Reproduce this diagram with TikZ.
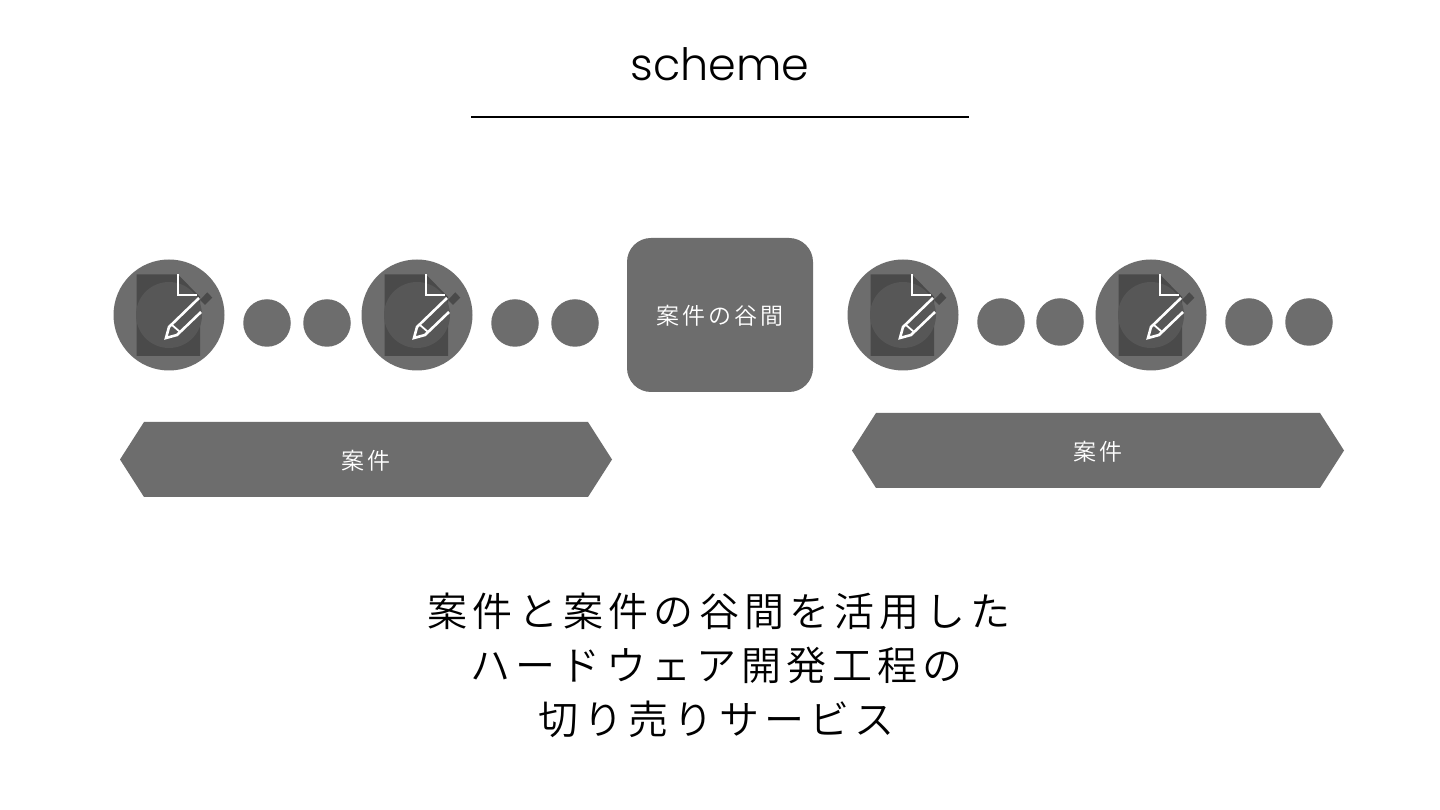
\documentclass[tikz,border=0pt]{standalone}
\usepackage{fontspec}
\newfontfamily\jpbig[LetterSpace=13]{Noto Sans CJK JP DemiLight}
\newfontfamily\jpsmall[LetterSpace=12]{Noto Sans CJK JP DemiLight}
\newfontfamily\latinlight{Poppins Light}
\definecolor{midgrey}{HTML}{6D6D6D}
\definecolor{pagegrey}{HTML}{4A4A4A}
\definecolor{innergrey}{HTML}{575757}
\tikzset{
  dotnode/.style={circle,fill=midgrey,minimum size=47.5pt,inner sep=0pt},
  iconnode/.style={circle,fill=midgrey,minimum size=111pt,inner sep=0pt},
  smalltext/.style={text=white,font=\jpsmall\fontsize{23}{27}\selectfont},
  bigtext/.style={text=black,font=\jpbig\fontsize{40}{47}\selectfont},
  band/.style={fill=midgrey},
  pencilline/.style={draw=white,line width=2.6pt,line join=miter}
}
\newcommand{\docicon}[3]{%
  \begin{scope}[shift={(#1,#2)}]
    \node[iconnode] (#3) at (0,0) {};
    \fill[pagegrey] (-32.5,40.5) -- (9,40.5) -- (29,20) -- (31,18) -- (31,-41) -- (-32.5,-41) -- cycle;
    \fill[innergrey] (0,0) circle (33);
    \draw[pencilline] (9,40.5) -- (9,20) -- (28,20);
    \draw[pencilline] (30,17) -- (0,-12) -- (-3,-23) -- (8,-20) -- (32,3);
    \draw[white,line width=1.8pt] (3,-10) -- (11,-17);
    \fill[pagegrey] (38.3,22.7) -- (43.3,17.3) -- (36,10) -- (31,15) -- cycle;
  \end{scope}}
\begin{document}
\begin{tikzpicture}[x=1pt,y=1pt]
  \useasboundingbox (0,0) rectangle (1440,810);
  \fill[white] (0,0) rectangle (1440,810);
  \node[text=black,font=\latinlight\fontsize{44.5}{52}\selectfont,inner sep=0pt] (title) at (720,746) {scheme};
  \coordinate (ruleL) at (471,692.5);
  \coordinate (ruleR) at (969,692.5);
  \draw[black,line width=2pt] (ruleL) -- (ruleR);

  \docicon{169}{495}{iconA}
  \docicon{417}{495}{iconB}
  \docicon{903}{495}{iconC}
  \docicon{1151}{495}{iconD}

  \node[dotnode] (d1) at (267,487) {};
  \node[dotnode] (d2) at (327,487) {};
  \node[dotnode] (d3) at (515,487) {};
  \node[dotnode] (d4) at (575,487) {};
  \node[dotnode] (d5) at (1001,488) {};
  \node[dotnode] (d6) at (1060,488) {};
  \node[dotnode] (d7) at (1249,488) {};
  \node[dotnode] (d8) at (1309,488) {};

  \node[fill=midgrey,rounded corners=24pt,minimum width=186pt,minimum height=154pt,inner sep=0pt] (gapbox) at (720,495) {};
  \node[smalltext] (gap) at (720,494) {案件の谷間};

  \fill[band] (120,350.5) -- (144,388) -- (588,388) -- (612,350.5) -- (588,313) -- (144,313) -- cycle;
  \node[smalltext] (caseL) at (366,349) {案件};
  \fill[band] (852,359.5) -- (876,397) -- (1320,397) -- (1344,359.5) -- (1320,322) -- (876,322) -- cycle;
  \node[smalltext] (caseR) at (1098,358.5) {案件};

  \node[bigtext] (l1) at (719,199) {案件と案件の谷間を活用した};
  \node[bigtext] (l2) at (716.5,145) {ハードウェア開発工程の};
  \node[bigtext] (l3) at (716.5,91) {切り売りサービス};
\end{tikzpicture}
\end{document}
